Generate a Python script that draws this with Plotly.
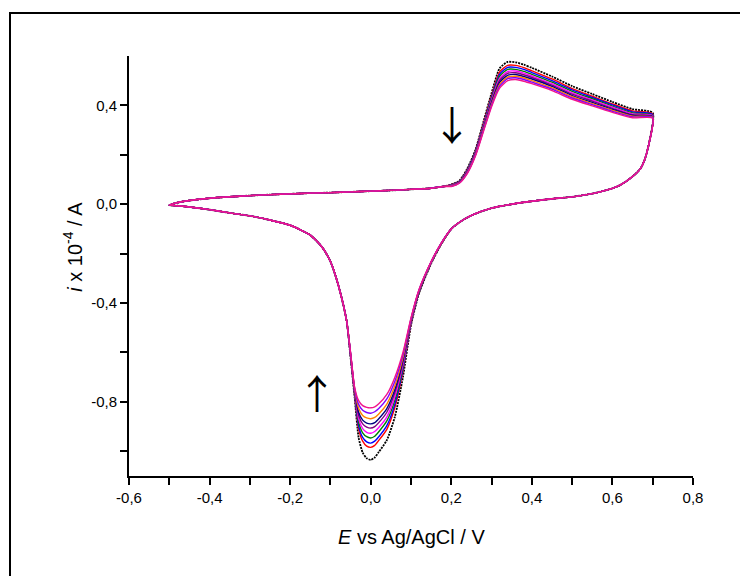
import plotly.graph_objects as go

# ---- potential grids (V vs Ag/AgCl) ----
# forward (anodic) sweep, common baseline part
E_fwd_base = [-0.50, -0.49, -0.47, -0.45, -0.40, -0.35, -0.30, -0.25, -0.20,
              -0.15, -0.10, -0.05, 0.00, 0.05, 0.10, 0.15, 0.18]
i_fwd_base = [-0.004, 0.002, 0.010, 0.015, 0.024, 0.030, 0.035, 0.039, 0.042,
              0.045, 0.047, 0.050, 0.053, 0.056, 0.060, 0.065, 0.072]
# forward sweep, oxidation wave (cycle dependent)
E_fwd_wave = [0.20, 0.22, 0.24, 0.26, 0.28, 0.30, 0.32, 0.34, 0.36, 0.38,
              0.40, 0.45, 0.50, 0.55, 0.60, 0.65, 0.70]
# reverse sweep just after the switching potential (common)
E_rev_top = [0.69, 0.68, 0.67, 0.65, 0.62, 0.60, 0.55, 0.50, 0.45, 0.40,
             0.35, 0.30, 0.25, 0.225]
i_rev_top = [0.240, 0.180, 0.145, 0.112, 0.078, 0.064, 0.043, 0.030, 0.022,
             0.012, 0.000, -0.016, -0.045, -0.068]
# reverse sweep, reduction wave (cycle dependent)
E_rev_wave = [0.20, 0.175, 0.15, 0.12, 0.10, 0.08, 0.06, 0.04, 0.02, 0.01,
              0.00, -0.01, -0.02, -0.03, -0.04, -0.05]
# reverse sweep tail back to the start potential (common)
E_rev_tail = [-0.06, -0.08, -0.10, -0.12, -0.15, -0.20, -0.25, -0.30, -0.35,
              -0.40, -0.45, -0.48, -0.50]
i_rev_tail = [-0.470, -0.330, -0.232, -0.175, -0.125, -0.085, -0.064, -0.047,
              -0.035, -0.022, -0.011, -0.006, -0.004]

# ---- currents per cycle (x 10^-4 A) ----
cycles = ["1", "2", "3", "4", "5", "6", "7", "8", "9", "10"]

i_fwd_wave = [
    [0.080, 0.095, 0.145, 0.220, 0.335, 0.450, 0.550, 0.576, 0.574, 0.565, 0.552, 0.517, 0.478, 0.446, 0.414, 0.385, 0.370],
    [0.079, 0.093, 0.141, 0.216, 0.328, 0.440, 0.536, 0.562, 0.562, 0.553, 0.540, 0.507, 0.468, 0.437, 0.406, 0.378, 0.366],
    [0.078, 0.092, 0.139, 0.213, 0.323, 0.434, 0.527, 0.554, 0.554, 0.546, 0.533, 0.500, 0.463, 0.432, 0.402, 0.374, 0.363],
    [0.077, 0.091, 0.137, 0.210, 0.319, 0.428, 0.518, 0.546, 0.546, 0.538, 0.526, 0.494, 0.457, 0.427, 0.397, 0.370, 0.360],
    [0.076, 0.090, 0.135, 0.207, 0.315, 0.422, 0.509, 0.537, 0.539, 0.531, 0.519, 0.488, 0.451, 0.422, 0.393, 0.366, 0.358],
    [0.075, 0.089, 0.133, 0.205, 0.311, 0.416, 0.501, 0.530, 0.532, 0.524, 0.513, 0.482, 0.446, 0.417, 0.388, 0.362, 0.356],
    [0.074, 0.088, 0.131, 0.202, 0.307, 0.411, 0.493, 0.522, 0.525, 0.517, 0.507, 0.477, 0.440, 0.412, 0.384, 0.359, 0.354],
    [0.074, 0.087, 0.129, 0.200, 0.303, 0.405, 0.485, 0.514, 0.518, 0.511, 0.500, 0.471, 0.435, 0.407, 0.380, 0.356, 0.352],
    [0.073, 0.086, 0.127, 0.198, 0.299, 0.400, 0.478, 0.508, 0.512, 0.505, 0.494, 0.466, 0.430, 0.403, 0.376, 0.353, 0.350],
    [0.072, 0.085, 0.125, 0.195, 0.295, 0.395, 0.470, 0.500, 0.505, 0.498, 0.488, 0.460, 0.425, 0.398, 0.372, 0.350, 0.348],
]

i_rev_wave = [
    [-0.100, -0.162, -0.240, -0.360, -0.490, -0.700, -0.860, -0.955, -1.003, -1.025, -1.035, -1.028, -1.005, -0.945, -0.780, -0.620],
    [-0.100, -0.161, -0.238, -0.356, -0.483, -0.676, -0.822, -0.911, -0.956, -0.976, -0.984, -0.979, -0.959, -0.909, -0.770, -0.615],
    [-0.100, -0.160, -0.237, -0.355, -0.480, -0.668, -0.809, -0.896, -0.941, -0.959, -0.967, -0.962, -0.944, -0.897, -0.767, -0.614],
    [-0.100, -0.160, -0.237, -0.354, -0.477, -0.658, -0.793, -0.877, -0.921, -0.939, -0.946, -0.941, -0.925, -0.882, -0.763, -0.612],
    [-0.100, -0.159, -0.236, -0.352, -0.475, -0.649, -0.778, -0.861, -0.904, -0.920, -0.927, -0.923, -0.908, -0.869, -0.760, -0.610],
    [-0.100, -0.159, -0.235, -0.351, -0.472, -0.639, -0.762, -0.842, -0.884, -0.900, -0.906, -0.902, -0.889, -0.854, -0.756, -0.608],
    [-0.100, -0.158, -0.234, -0.350, -0.469, -0.631, -0.750, -0.827, -0.868, -0.884, -0.889, -0.886, -0.874, -0.842, -0.752, -0.606],
    [-0.100, -0.158, -0.234, -0.348, -0.466, -0.621, -0.734, -0.809, -0.849, -0.863, -0.868, -0.865, -0.855, -0.826, -0.748, -0.604],
    [-0.100, -0.157, -0.233, -0.346, -0.463, -0.610, -0.716, -0.788, -0.827, -0.840, -0.846, -0.843, -0.834, -0.810, -0.744, -0.602],
    [-0.100, -0.157, -0.232, -0.345, -0.460, -0.600, -0.700, -0.770, -0.808, -0.820, -0.824, -0.822, -0.815, -0.795, -0.740, -0.600],
]

# ---- axis ticks ----
x_major = [-0.6, -0.4, -0.2, 0.0, 0.2, 0.4, 0.6, 0.8]
x_labels = ["-0,6", "-0,4", "-0,2", "0,0", "0,2", "0,4", "0,6", "0,8"]
x_minor = [-0.5, -0.3, -0.1, 0.1, 0.3, 0.5, 0.7]
y_major = [-0.8, -0.4, 0.0, 0.4]
y_labels = ["-0,8", "-0,4", "0,0", "0,4"]
y_minor = [-1.0, -0.6, -0.2, 0.2]

colors = ["#000000", "#FF0000", "#0000FF", "#008000", "#FF00FF",
          "#800080", "#000080", "#FF8000", "#8000FF", "#F0148C"]

FONT = "Arial, Liberation Sans, sans-serif"
ARROW_FONT = "Noto Sans CJK SC, DejaVu Sans"

fig = go.Figure()
for k, name in enumerate(cycles):
    x = E_fwd_base + E_fwd_wave + E_rev_top + E_rev_wave + E_rev_tail
    y = i_fwd_base + i_fwd_wave[k] + i_rev_top + i_rev_wave[k] + i_rev_tail
    first = k == 0
    fig.add_trace(go.Scatter(
        x=x, y=y, mode="lines", name=name, showlegend=False,
        line=dict(color=colors[k], width=1.8 if first else 1.4,
                  dash="2px,1px" if first else "solid",
                  shape="spline", smoothing=0.6),
    ))

axis_common = dict(
    showline=True, linecolor="black", linewidth=2,
    ticks="outside", ticklen=7, tickwidth=1.5, tickcolor="black",
    showgrid=False, zeroline=False, mirror=False,
    tickfont=dict(family=FONT, size=15, color="black"),
)

fig.update_xaxes(
    range=[-0.6, 0.8], tickmode="array", tickvals=x_major, ticktext=x_labels,
    minor=dict(tickvals=x_minor, ticks="outside", ticklen=7, tickwidth=1.5,
               tickcolor="black", showgrid=False),
    **axis_common,
)
fig.update_yaxes(
    range=[-1.1, 0.6], tickmode="array", tickvals=y_major, ticktext=y_labels,
    minor=dict(tickvals=y_minor, ticks="outside", ticklen=7, tickwidth=1.5,
               tickcolor="black", showgrid=False),
    **axis_common,
)

annotations = [
    # axis titles
    dict(x=0.1, y=-0.145, xref="x", yref="paper",
         xanchor="center", yanchor="middle",
         text="<i>E</i> vs Ag/AgCl / V", showarrow=False,
         font=dict(family=FONT, size=20, color="black")),
    dict(x=-0.1, y=0.545, xref="paper", yref="paper",
         xanchor="center", yanchor="middle",
         text="<i>i</i> x 10<sup>-4</sup> / A", textangle=-90, showarrow=False,
         font=dict(family=FONT, size=20, color="black")),
    # scan-direction arrows
    dict(x=0.201, y=0.328, xref="x", yref="y", text="↓", showarrow=False,
         xanchor="center", yanchor="middle",
         font=dict(family=ARROW_FONT, size=40, color="black")),
    dict(x=-0.133, y=-0.758, xref="x", yref="y", text="↑", showarrow=False,
         xanchor="center", yanchor="middle",
         font=dict(family=ARROW_FONT, size=40, color="black")),
]

fig.update_layout(
    width=740, height=576,
    margin=dict(l=129, r=47, t=56, b=100),
    paper_bgcolor="white", plot_bgcolor="white",
    annotations=annotations,
    shapes=[dict(type="rect", xref="paper", yref="paper",
                 x0=(10 - 129) / 564, x1=(760 - 129) / 564,
                 y0=(476 - 600) / 420, y1=(476 - 13) / 420,
                 line=dict(color="black", width=2), layer="below")],
)

fig.write_html("out.html")
